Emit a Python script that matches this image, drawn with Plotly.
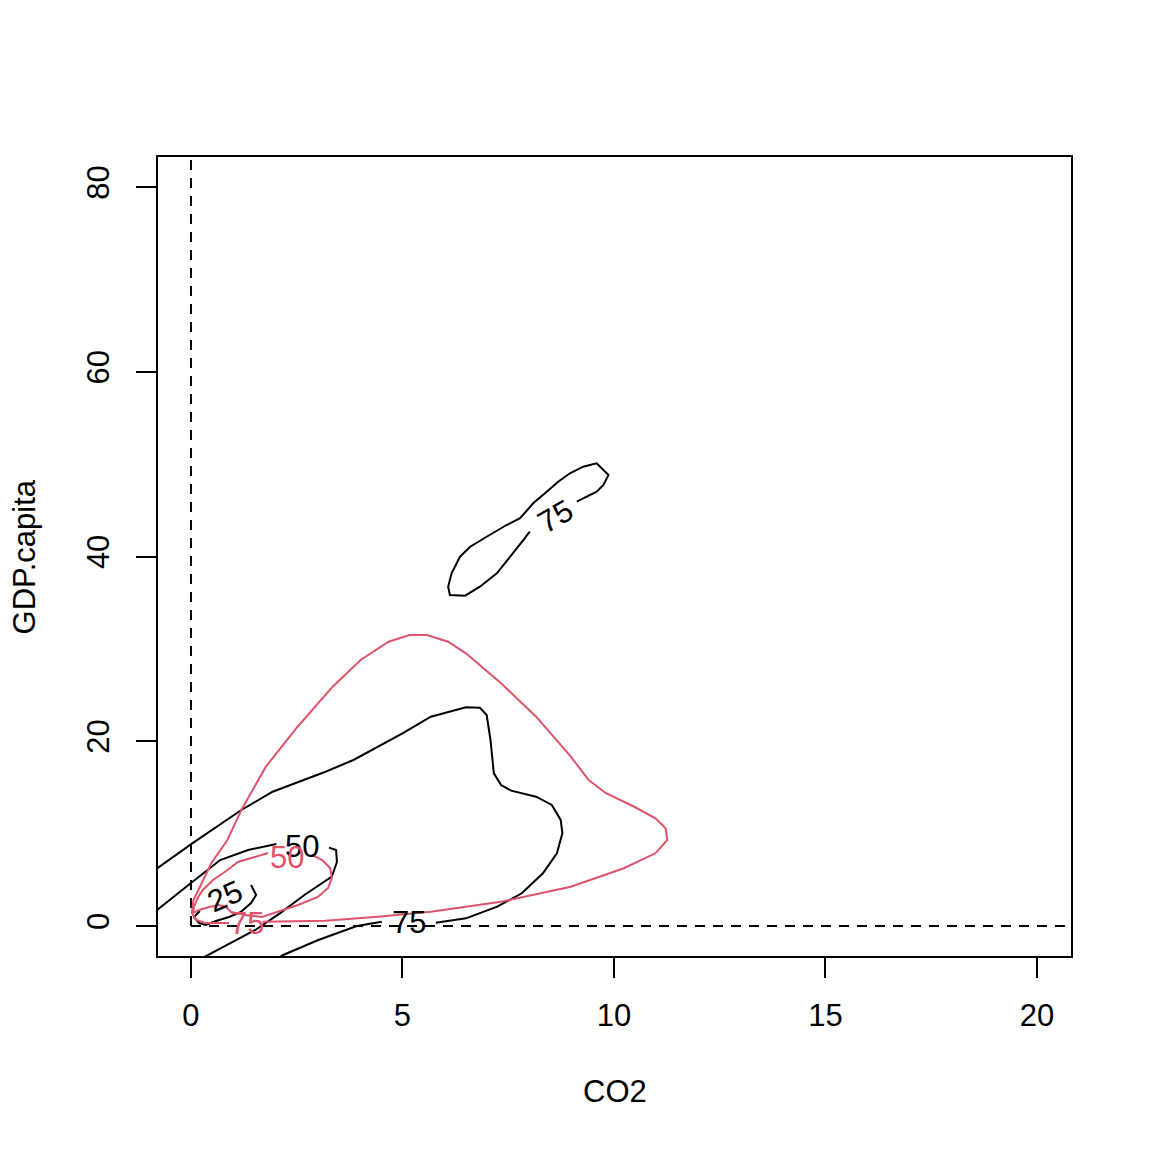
import plotly.graph_objects as go

# ---- data ----
# black contours (density 1)
b75a_x = [-0.97, -0.80, 0.03, 1.19, 1.93, 3.18, 3.84, 5.00, 5.67, 6.50, 6.83, 6.99, 7.08, 7.16, 7.33, 7.57, 8.16, 8.53, 8.74, 8.78, 8.65, 8.32, 7.82, 7.24, 6.50, 5.79]
b75a_y = [5.50, 6.25, 8.95, 12.56, 14.54, 16.70, 17.97, 20.86, 22.66, 23.68, 23.63, 22.84, 20.14, 16.53, 15.26, 14.65, 14.00, 13.10, 11.48, 10.04, 7.87, 5.71, 3.54, 2.09, 0.83, 0.36]
b75b_x = [4.51, 3.92, 3.01, 2.18, 1.87]
b75b_y = [0.47, 0.00, -1.52, -3.14, -3.90]

b75c_x = [9.12, 9.35, 9.59, 9.75, 9.87, 9.59, 9.27, 8.96, 8.68, 8.41, 8.09, 7.78, 7.46, 6.99, 6.60, 6.36, 6.16, 6.08, 6.12, 6.48, 6.83, 7.23, 7.62, 7.86, 8.01]
b75c_y = [45.93, 46.47, 47.01, 47.74, 48.82, 50.09, 49.72, 49.01, 48.10, 47.01, 45.76, 44.14, 43.41, 42.14, 41.06, 39.98, 38.18, 36.73, 35.83, 35.76, 36.73, 38.18, 40.35, 41.79, 42.69]

b50a_x = [-0.97, -0.80, 0.00, 0.69, 1.35, 2.02]
b50a_y = [1.30, 1.73, 4.65, 7.14, 8.23, 8.88]
b50b_x = [3.26, 3.43, 3.45, 3.33, 2.68, 2.10, 1.52, 0.94, 0.40, 0.09]
b50b_y = [8.48, 8.23, 6.93, 5.34, 3.36, 1.37, -0.43, -1.87, -3.14, -3.90]

b25_x = [1.42, 1.54, 1.42, 1.18, 0.90, 0.59, 0.35, 0.19, 0.07, 0.21]
b25_y = [4.44, 3.36, 2.49, 1.52, 0.97, 0.54, 0.11, 0.32, 0.97, 1.62]

# red contours (density 2)
r75_x = [1.69, 3.18, 4.42, 5.67, 7.33, 8.98, 10.23, 10.98, 11.26, 11.22, 10.98, 10.48, 9.81, 9.40, 8.98, 8.16, 7.33, 6.50, 6.08, 5.58, 5.17, 4.67, 4.01, 3.35, 2.52, 1.77, 1.19, 0.86, 0.48, 0.35, 0.21, 0.06, 0.02, 0.12, 0.33, 0.90]
r75_y = [0.47, 0.57, 1.01, 1.55, 2.63, 4.25, 6.25, 7.87, 9.31, 10.58, 11.66, 12.91, 14.37, 15.81, 18.33, 22.66, 26.27, 29.52, 30.78, 31.50, 31.50, 30.78, 28.80, 25.91, 21.57, 17.25, 12.56, 9.31, 6.79, 5.52, 4.11, 2.81, 1.41, 0.65, 0.32, 0.32]

r50_x = [2.86, 3.10, 3.29, 3.33, 3.24, 3.00, 2.53, 2.06, 1.68, 1.28, 0.95, 0.83, 0.66, 0.43, 0.19, 0.05, 0.07, 0.17, 0.28, 0.52, 0.83, 1.11, 1.51, 1.82]
r50_y = [7.69, 7.14, 6.28, 5.20, 4.11, 3.14, 2.27, 1.52, 0.97, 1.19, 1.52, 2.06, 2.27, 2.06, 1.73, 1.41, 2.06, 3.14, 3.90, 4.98, 5.95, 6.93, 7.47, 7.90]

# contour labels: text, x, y, colour key, angle
label_text = ["75", "75", "50", "25", "50", "75"]
label_x = [5.15, 8.61, 2.62, 0.80, 2.27, 1.32]
label_y = [0.43, 44.38, 8.66, 3.14, 7.47, 0.32]
label_grp = ["black", "black", "black", "black", "red", "red"]
label_ang = [0, -30, 0, -24, 0, 0]

# reference (dashed) lines
ref_h_x = [0.0, 20.66]
ref_h_y = [0.0, 0.0]
ref_v_x = [0.0, 0.0]
ref_v_y = [0.0, 90.0]

x_ticks = [0, 5, 10, 15, 20]
y_ticks = [0, 20, 40, 60, 80]
x_title = "CO2"
y_title = "GDP.capita"

BLACK = "#000000"
RED = "#DF536B"
FONT = "Liberation Sans, Arial, Helvetica, sans-serif"
FS = 31
LW = 2.0

fig = go.Figure()

def add_line(xs, ys, color, dash="solid"):
    fig.add_trace(go.Scatter(x=xs, y=ys, mode="lines",
                             line=dict(color=color, width=LW, dash=dash),
                             hoverinfo="skip", showlegend=False))

add_line(ref_h_x, ref_h_y, BLACK, "10px,8px")
add_line(ref_v_x, ref_v_y, BLACK, "10px,8px")

for xs, ys in [(b75a_x, b75a_y), (b75b_x, b75b_y), (b75c_x, b75c_y),
               (b50a_x, b50a_y), (b50b_x, b50b_y), (b25_x, b25_y)]:
    add_line(xs, ys, BLACK)

add_line(r75_x, r75_y, RED)
add_line(r50_x, r50_y, RED)

for t, x, y, g, a in zip(label_text, label_x, label_y, label_grp, label_ang):
    fig.add_annotation(x=x, y=y, xref="x", yref="y", text=t, showarrow=False,
                       textangle=a,
                       font=dict(family=FONT, size=FS, color=BLACK if g == "black" else RED))

fig.add_annotation(x=0.5, y=-0.169, xref="paper", yref="paper", text=x_title,
                   showarrow=False, font=dict(family=FONT, size=FS, color=BLACK),
                   xanchor="center", yanchor="middle")
fig.add_annotation(x=-0.1457, y=0.5, xref="paper", yref="paper", text=y_title,
                   showarrow=False, textangle=-90,
                   font=dict(family=FONT, size=FS, color=BLACK),
                   xanchor="center", yanchor="middle")

axis_common = dict(showgrid=False, zeroline=False, showline=True, mirror=True,
                   linecolor=BLACK, linewidth=LW, ticks="outside", ticklen=20,
                   tickwidth=LW, tickcolor=BLACK,
                   tickfont=dict(family=FONT, size=FS, color=BLACK))

fig.update_xaxes(range=[-0.780, 20.804], tickvals=x_ticks, ticklabelstandoff=11,
                 **axis_common)
fig.update_yaxes(range=[-3.248, 83.25], tickvals=y_ticks, tickangle=-90,
                 ticklabelstandoff=15, **axis_common)

fig.update_layout(width=1152, height=1152,
                  margin=dict(l=150, r=89, t=149, b=204),
                  paper_bgcolor="white", plot_bgcolor="white",
                  showlegend=False, font=dict(family=FONT))

fig.write_html("out.html")
